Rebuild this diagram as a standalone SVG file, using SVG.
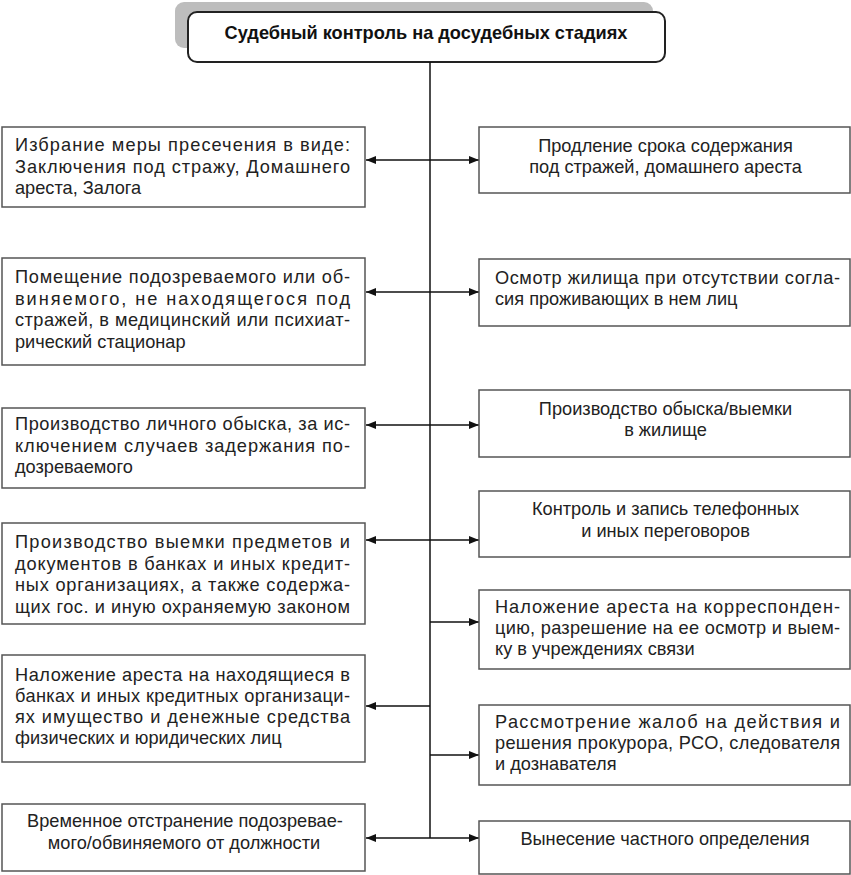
<svg xmlns="http://www.w3.org/2000/svg" width="851" height="875" viewBox="0 0 851 875">
<defs>
<marker id="ah" markerUnits="userSpaceOnUse" markerWidth="10" markerHeight="8" refX="10" refY="4" orient="auto-start-reverse">
<path d="M0,0 L10,4 L0,8 z" fill="#111"/>
</marker>
</defs>
<style>
.box{fill:#fff;stroke:#555;stroke-width:1.5}
.t{font-family:"Liberation Sans",Arial,sans-serif;font-size:18.2px;fill:#222}
.c{text-anchor:middle}
.title{font-family:"Liberation Sans",Arial,sans-serif;font-size:18.2px;font-weight:bold;fill:#111;text-anchor:middle}
.ln{stroke:#111;stroke-width:1.5;fill:none}
.a2{marker-start:url(#ah);marker-end:url(#ah)}
.a1{marker-end:url(#ah)}
</style>
<rect width="851" height="875" fill="#fff"/>

<g id="header">
<rect x="175" y="2" width="478" height="46" rx="9" fill="#bdbdbd"/>
<rect x="188" y="12" width="477" height="50" rx="9" fill="#fff" stroke="#222" stroke-width="2"/>
<text class="title" x="426" y="38.5">Судебный контроль на досудебных стадиях</text>
</g>

<g id="connectors">
<line class="ln" x1="430" y1="62" x2="430" y2="838"/>
<line class="ln a2" x1="366" y1="160" x2="479" y2="160"/>
<line class="ln a2" x1="366" y1="292" x2="479" y2="292"/>
<line class="ln a2" x1="366" y1="425" x2="479" y2="425"/>
<line class="ln a2" x1="366" y1="540" x2="479" y2="540"/>
<line class="ln a1" x1="430" y1="622" x2="479" y2="622"/>
<line class="ln a1" x1="430" y1="706" x2="366" y2="706"/>
<line class="ln a1" x1="430" y1="755" x2="479" y2="755"/>
<line class="ln a2" x1="366" y1="838" x2="479" y2="838"/>
</g>

<g id="left1">
<rect class="box" x="2" y="127" width="363" height="80"/>
<text class="t" x="15" y="151" textLength="335" lengthAdjust="spacing">Избрание меры пресечения в виде:</text>
<text class="t" x="15" y="172.5" textLength="335" lengthAdjust="spacing">Заключения под стражу, Домашнего</text>
<text class="t" x="15" y="194">ареста, Залога</text>
</g>

<g id="left2">
<rect class="box" x="2" y="258" width="363" height="107"/>
<text class="t" x="15" y="283" textLength="335" lengthAdjust="spacing">Помещение подозреваемого или об-</text>
<text class="t" x="15" y="304.5" textLength="335" lengthAdjust="spacing">виняемого, не находящегося под</text>
<text class="t" x="15" y="326" textLength="335" lengthAdjust="spacing">стражей, в медицинский или психиат-</text>
<text class="t" x="15" y="347.5">рический стационар</text>
</g>

<g id="left3">
<rect class="box" x="2" y="408" width="363" height="80"/>
<text class="t" x="15" y="430" textLength="335" lengthAdjust="spacing">Производство личного обыска, за ис-</text>
<text class="t" x="15" y="451.5" textLength="335" lengthAdjust="spacing">ключением случаев задержания по-</text>
<text class="t" x="15" y="473">дозреваемого</text>
</g>

<g id="left4">
<rect class="box" x="2" y="523" width="363" height="101"/>
<text class="t" x="15" y="548" textLength="335" lengthAdjust="spacing">Производство выемки предметов и</text>
<text class="t" x="15" y="569.5" textLength="335" lengthAdjust="spacing">документов в банках и иных кредит-</text>
<text class="t" x="15" y="591" textLength="335" lengthAdjust="spacing">ных организациях, а также содержа-</text>
<text class="t" x="15" y="612.5" textLength="335" lengthAdjust="spacing">щих гос. и иную охраняемую законом</text>
</g>

<g id="left5">
<rect class="box" x="2" y="655" width="363" height="107"/>
<text class="t" x="15" y="681" textLength="335" lengthAdjust="spacing">Наложение ареста на находящиеся в</text>
<text class="t" x="15" y="702" textLength="335" lengthAdjust="spacing">банках и иных кредитных организаци-</text>
<text class="t" x="15" y="723" textLength="335" lengthAdjust="spacing">ях имущество и денежные средства</text>
<text class="t" x="15" y="744">физических и юридических лиц</text>
</g>

<g id="left6">
<rect class="box" x="2" y="804" width="363" height="67"/>
<text class="t c" x="185" y="827">Временное отстранение подозревае-</text>
<text class="t c" x="184" y="848.5">мого/обвиняемого от должности</text>
</g>

<g id="right1">
<rect class="box" x="479" y="127" width="371" height="66"/>
<text class="t c" x="665.5" y="152">Продление срока содержания</text>
<text class="t c" x="665.5" y="173">под стражей, домашнего ареста</text>
</g>

<g id="right2">
<rect class="box" x="479" y="259" width="371" height="67"/>
<text class="t" x="495" y="284" textLength="345" lengthAdjust="spacing">Осмотр жилища при отсутствии согла-</text>
<text class="t" x="495" y="305">сия проживающих в нем лиц</text>
</g>

<g id="right3">
<rect class="box" x="479" y="390" width="371" height="67"/>
<text class="t c" x="665.5" y="415">Производство обыска/выемки</text>
<text class="t c" x="665.5" y="436">в жилище</text>
</g>

<g id="right4">
<rect class="box" x="479" y="491" width="371" height="66"/>
<text class="t c" x="665.5" y="515">Контроль и запись телефонных</text>
<text class="t c" x="665.5" y="537">и иных переговоров</text>
</g>

<g id="right5">
<rect class="box" x="479" y="590" width="371" height="79"/>
<text class="t" x="495" y="613" textLength="345" lengthAdjust="spacing">Наложение ареста на корреспонден-</text>
<text class="t" x="495" y="634" textLength="345" lengthAdjust="spacing">цию, разрешение на ее осмотр и выем-</text>
<text class="t" x="495" y="655">ку в учреждениях связи</text>
</g>

<g id="right6">
<rect class="box" x="479" y="705" width="371" height="80"/>
<text class="t" x="495" y="728" textLength="345" lengthAdjust="spacing">Рассмотрение жалоб на действия и</text>
<text class="t" x="495" y="749" textLength="345" lengthAdjust="spacing">решения прокурора, РСО, следователя</text>
<text class="t" x="495" y="770">и дознавателя</text>
</g>

<g id="right7">
<rect class="box" x="479" y="821" width="371" height="53"/>
<text class="t c" x="665" y="845">Вынесение частного определения</text>
</g>
</svg>
